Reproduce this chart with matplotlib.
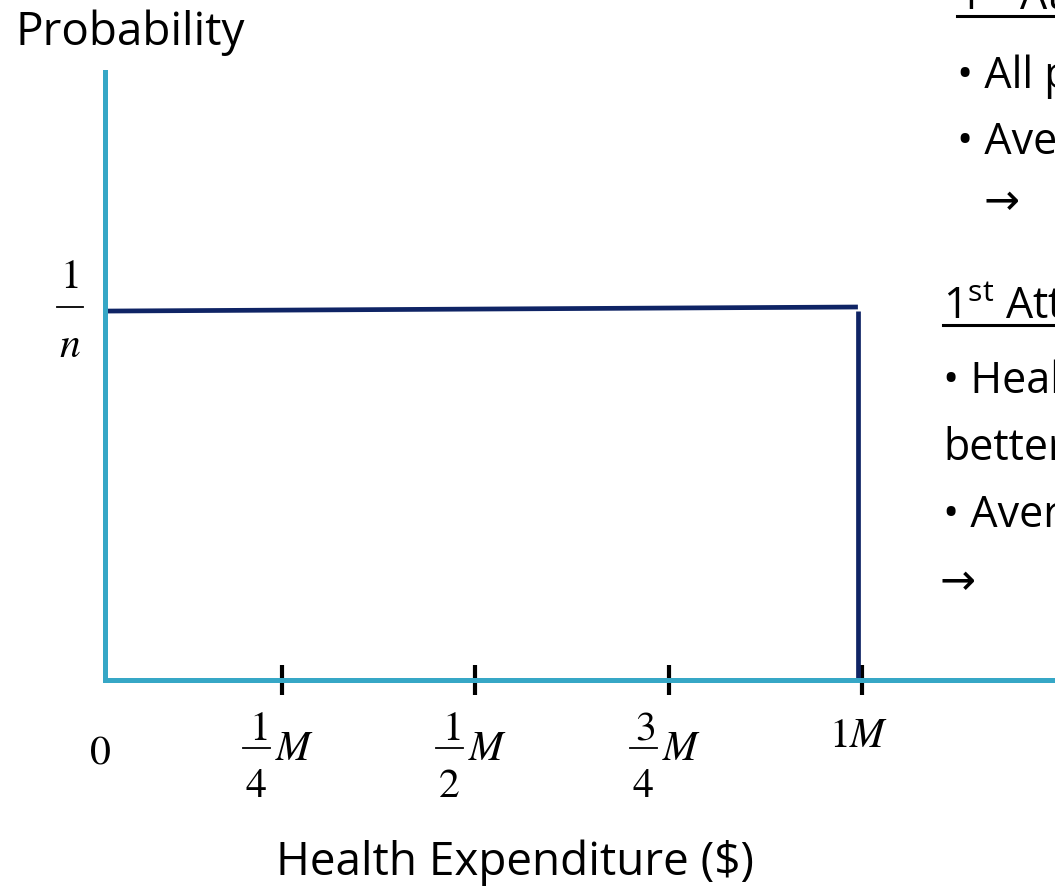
import matplotlib
matplotlib.use("Agg")
import matplotlib.pyplot as plt
from matplotlib.lines import Line2D
from matplotlib.transforms import Affine2D, ScaledTranslation, offset_copy

# distribution (x in units of M, height in units of 1/n)
dens_x = [0.021, 0.995]
dens_y = [1.0, 1.011]
drop_x = 0.995
drop_top = 1.0

x_ticks = [0.25, 0.5, 0.75, 1.0]
# (numerator, denominator, suffix); no fraction -> plain label
x_tick_labels = [("1", "4", "M"), ("1", "2", "M"), ("3", "4", "M"), (None, None, "1M")]
zero_label = "0"
y_ticks = [1.0]
y_tick_labels = [("1", "n")]

# slide text cut off at the right edge
side_lines = [
    ("1$^{\\rm st}$ At", 957, 10, True),
    ("\u2022 All p", 957, 88, False),
    ("\u2022 Ave", 957, 154, False),
    ("\u2192", 983, 214, False),
    ("1$^{\\rm st}$ Att", 943, 319, True),
    ("\u2022 Heal", 943, 393, False),
    ("better", 943, 460, False),
    ("\u2022 Aver", 943, 527, False),
    ("\u2192", 940, 594, False),
]

W, H = 1055, 891
CYAN = "#36A7C6"
NAVY = "#0F2465"
SANS = ["Open Sans", "DejaVu Sans"]
MATH = 30

plt.rcParams["mathtext.fontset"] = "custom"
plt.rcParams["mathtext.rm"] = "Open Sans"


def fx(px):
    return px / W


def fy(py):
    return 1 - py / H


def math_text(fig, ax, trans, pos, dx, dy, s, ha="center"):
    t = offset_copy(trans, fig=fig, x=dx, y=dy, units="dots")
    ax.text(pos[0], pos[1], "$" + s + "$", transform=t, ha=ha, va="baseline",
            fontsize=MATH, math_fontfamily="stix", clip_on=False)


def frac_bar(fig, trans, pos, x0, x1, dy):
    t = Affine2D() + ScaledTranslation(pos[0], pos[1], trans)
    fig.add_artist(Line2D([x0, x1], [dy, dy], transform=t, color="black", lw=1.3))


def run():
    fig = plt.figure(figsize=(W / 100, H / 100), dpi=100)
    ax = fig.add_axes([fx(105), fy(680), fx(1055) - fx(105), fy(72) - fy(680)])
    ax.set_xlim(0.021, 1.25)
    ax.set_ylim(0, 1.648)

    for side in ["top", "right"]:
        ax.spines[side].set_visible(False)
    for side in ["left", "bottom"]:
        ax.spines[side].set_color(CYAN)
        ax.spines[side].set_linewidth(3.6)
        ax.spines[side].set_capstyle("projecting")

    ax.plot(dens_x, dens_y, color=NAVY, lw=3.4, solid_capstyle="butt")
    ax.plot([drop_x, drop_x], [0, drop_top], color=NAVY, lw=3.4, solid_capstyle="butt")

    # x ticks: marks from matplotlib, labels stacked by hand
    ax.set_xticks(x_ticks, labels=[""] * len(x_ticks))
    ax.tick_params(axis="x", direction="inout", length=22, width=3, color="black")
    xt = ax.get_xaxis_transform()
    for x, (num, den, suf) in zip(x_ticks, x_tick_labels):
        if num is None:
            math_text(fig, ax, xt, (x, 0), -3, -67, suf)
            continue
        math_text(fig, ax, xt, (x, 0), -24, -60, num)
        frac_bar(fig, xt, (x, 0), -39, -12, -68)
        math_text(fig, ax, xt, (x, 0), -26, -117, den)
        math_text(fig, ax, xt, (x, 0), -7, -80, suf, ha="left")
    math_text(fig, ax, xt, (0.0146, 0), 0, -83, zero_label)

    # y tick: 1/n
    ax.set_yticks(y_ticks, labels=[""] * len(y_ticks))
    ax.tick_params(axis="y", length=0)
    yt = ax.get_yaxis_transform()
    for y, (num, den) in zip(y_ticks, y_tick_labels):
        math_text(fig, ax, yt, (0, y), -36, 23, num)
        frac_bar(fig, yt, (0, y), -48, -22, 4)
        math_text(fig, ax, yt, (0, y), -35, -46, den)

    fig.text(fx(15), fy(45), "Probability", family=SANS, fontsize=33, va="baseline")
    fig.text(fx(515), fy(875), r"Health Expenditure (\$)", family=SANS, fontsize=33,
             ha="center", va="baseline")

    for txt, x, y, underline in side_lines:
        fig.text(fx(x), fy(y), txt, family=SANS, fontsize=31, va="baseline")
        if underline:
            fig.add_artist(Line2D([fx(x), 1.0], [fy(y + 6), fy(y + 6)],
                                  transform=fig.transFigure, color="black", lw=2.2))

    fig.savefig("out.png", dpi=100)


run()
